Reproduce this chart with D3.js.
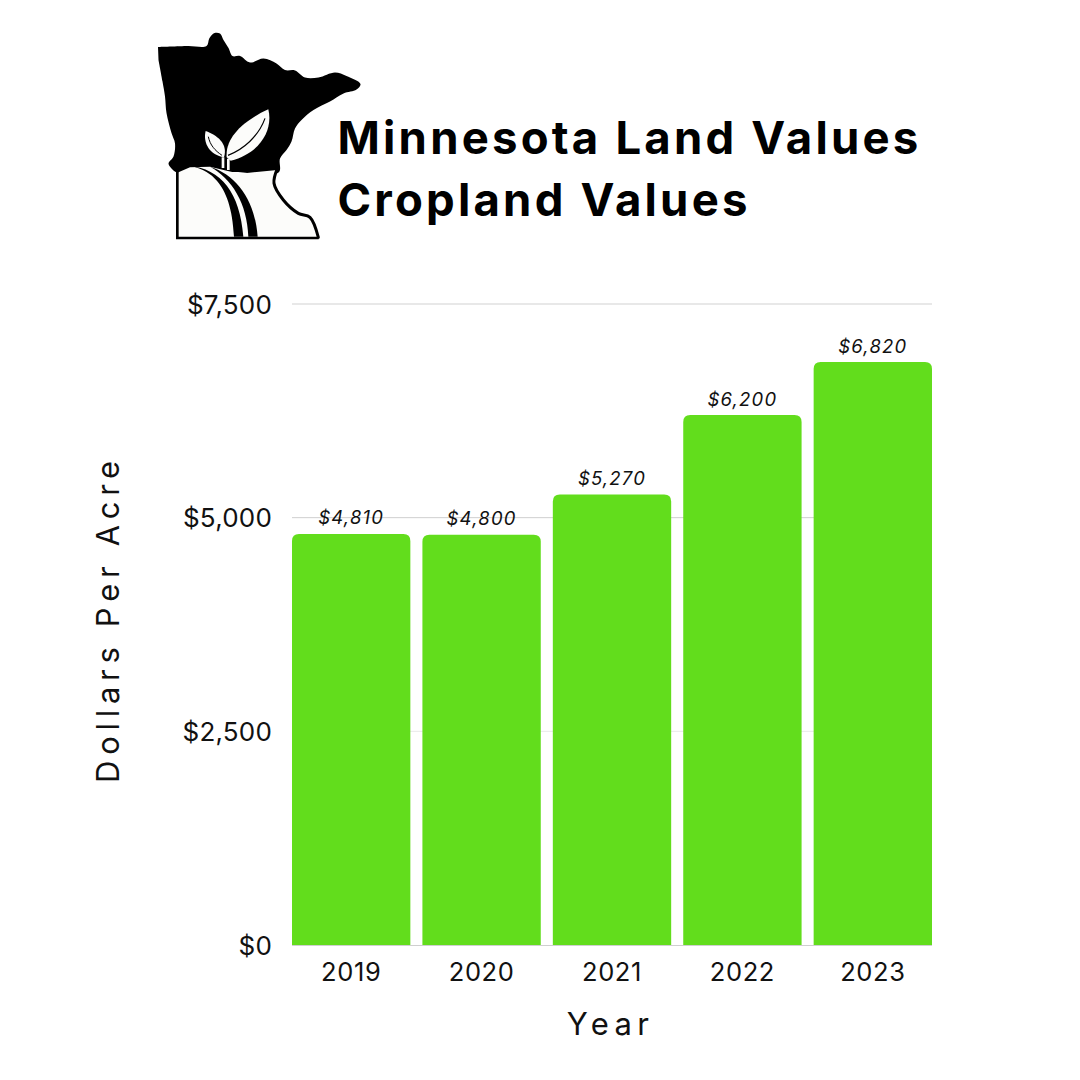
<!DOCTYPE html>
<html>
<head>
<meta charset="utf-8">
<script src="https://cdn.jsdelivr.net/npm/d3@7/dist/d3.min.js"></script>
<style>
html,body{margin:0;padding:0;background:#fff;}
svg{display:block;}
text{font-family:Inter,"Open Sans",sans-serif;fill:#111;}
</style>
</head>
<body>
<svg id="chart" width="1080" height="1080"></svg>
<script>
const years = ["2019","2020","2021","2022","2023"];
const cropland = [4810,4800,5270,6200,6820];
const yTicks = [0,2500,5000,7500];
const titleLines = ["Minnesota Land Values","Cropland Values"];

const svg = d3.select("#chart");
const x = d3.scaleBand().domain(years).range([292,932]).paddingInner(0.0925).paddingOuter(0);
const y = d3.scaleLinear().domain([0,7500]).range([945,304]);
const money = d3.format("$,");

// State emblem: silhouette, farmland panel, road and seedling
const smooth = d3.line().curve(d3.curveCatmullRom.alpha(0.5));
const paper = "#fcfcfa";
const logo = svg.append("g");

const north = [[158,47],[188,46],[206.5,46],[209.5,38],[214.5,33],[220,33.5],[223.5,40],[228.5,48],[232.5,56],[240,56],[250,62.5],[263.5,58.5],[276.5,63.5],[285,70],[295,70.5],[305,77.5],[318.5,77.5],[335,72.5],[346.5,76],[360.5,84],[356.5,89.5],[343.5,93.5],[330,101.5],[313.5,110],[301.5,120],[295,128.5],[291.5,141.5],[286.5,150],[280,158.5],[279,172],[256.5,174],[238,172],[178,173],[171.5,168.5],[168.5,163.5],[173.5,156.5],[175,143.5],[171.5,133],[166.5,113],[165,96.5],[162.5,81.5],[158.5,60]];
logo.append("path").attr("d",smooth(north)+"Z").attr("fill","#000");

// Everything below is laid out on a 3x grid anchored at the panel's corner
const lower = logo.append("g").attr("transform","translate(160,100) scale(0.33333)");
const panel = [[52,218],[90,202],[150,200],[200,212],[240,221],[352,210],[342,250],[370,300],[415,340],[450,352],[475,412],[52,412]];
lower.append("path").attr("d",d3.line()(panel)+"Z").attr("fill",paper);
const eastShore = [[352,206],[342,250],[370,300],[415,340],[450,352],[475,412]];
lower.append("path").attr("d",smooth(eastShore)).attr("fill","none").attr("stroke","#000").attr("stroke-width",9).attr("stroke-linecap","round");
lower.append("path").attr("d",d3.line()([[476,414],[52,414],[52,215]])).attr("fill","none").attr("stroke","#000").attr("stroke-width",8).attr("stroke-linejoin","miter");

// Road stripes narrowing toward the horizon
lower.append("path").attr("d","M85,197 C140,205 215,240 222,410 L250,410 C240,280 185,205 85,197Z").attr("fill","#000");
lower.append("path").attr("d","M150,200 C215,235 262,310 265,410 L293,410 C285,300 230,225 150,200Z").attr("fill","#000");

// Seedling
lower.append("path").attr("d","M200,172 C195,110 255,60 325,28 C340,90 300,160 212,182Z").attr("fill",paper);
lower.append("path").attr("d","M192,172 C150,165 128,130 137,93 C170,105 205,130 192,172Z").attr("fill",paper);
lower.append("path").attr("d","M204,166 C250,148 295,110 315,55").attr("fill","none").attr("stroke","#000").attr("stroke-width",3.5);
lower.append("path").attr("d","M186,166 C165,152 150,135 145,110").attr("fill","none").attr("stroke","#000").attr("stroke-width",3);
lower.append("path").attr("d","M189,172 L189,204 M205,176 L205,210").attr("stroke",paper).attr("stroke-width",8).attr("fill","none");

// Title
svg.selectAll("text.title").data(titleLines).join("text")
  .attr("class","title")
  .attr("x",337.5)
  .attr("y",(d,i)=>i===0?154:216)
  .attr("font-size",45.5)
  .attr("font-weight",700)
  .attr("letter-spacing",3.2)
  .style("fill","#000")
  .text(d=>d);

// Horizontal gridlines behind the bars
svg.selectAll("line.grid").data(yTicks.filter(d=>d>0)).join("line")
  .attr("class","grid")
  .attr("x1",292).attr("x2",932)
  .attr("y1",d=>y(d)).attr("y2",d=>y(d))
  .attr("stroke",d=>d===5000?"#cfcfcf":"#e8e8e8")
  .attr("stroke-width",d=>d===7500?2:1);
svg.append("line").attr("x1",292).attr("x2",932).attr("y1",945.5).attr("y2",945.5).attr("stroke","#cfcfcf");

// Bars with rounded top corners
const r = 7;
svg.selectAll("path.bar").data(years).join("path")
  .attr("class","bar")
  .attr("fill","#62dd1c")
  .attr("d",(d,i)=>{
    const x0=x(d), x1=x0+x.bandwidth(), top=y(cropland[i]), b=y(0);
    return `M${x0},${b}V${top+r}Q${x0},${top} ${x0+r},${top}H${x1-r}Q${x1},${top} ${x1},${top+r}V${b}Z`;
  });

// Value labels
svg.selectAll("text.value").data(years).join("text")
  .attr("class","value")
  .attr("x",d=>x(d)+x.bandwidth()/2)
  .attr("y",(d,i)=>y(cropland[i])-9.5)
  .attr("text-anchor","middle")
  .attr("font-size",18.5)
  .attr("font-style","italic")
  .attr("letter-spacing",1.2)
  .text((d,i)=>money(cropland[i]));

// Axis labels
const yAxis = d3.axisLeft(y).tickValues(yTicks).tickFormat(money).tickSize(0).tickPadding(20);
const gy = svg.append("g").attr("transform","translate(292,1)").call(yAxis);
gy.select(".domain").remove();
gy.selectAll("text").attr("font-size",26).style("font-family","Inter,sans-serif").attr("letter-spacing",0.2);

const xAxis = d3.axisBottom(x).tickSize(0).tickPadding(17);
const gx = svg.append("g").attr("transform","translate(0,946)").call(xAxis);
gx.select(".domain").remove();
gx.selectAll("text").attr("font-size",25.5).style("font-family","Inter,sans-serif").attr("letter-spacing",0.6);

// Axis titles
svg.append("text").attr("x",610.5).attr("y",1035).attr("text-anchor","middle")
  .attr("font-size",31).attr("letter-spacing",5.4).text("Year");
svg.append("text").attr("transform","translate(119,619) rotate(-90)").attr("text-anchor","middle")
  .attr("font-size",31).attr("letter-spacing",5.7).text("Dollars Per Acre");
</script>
</body>
</html>
